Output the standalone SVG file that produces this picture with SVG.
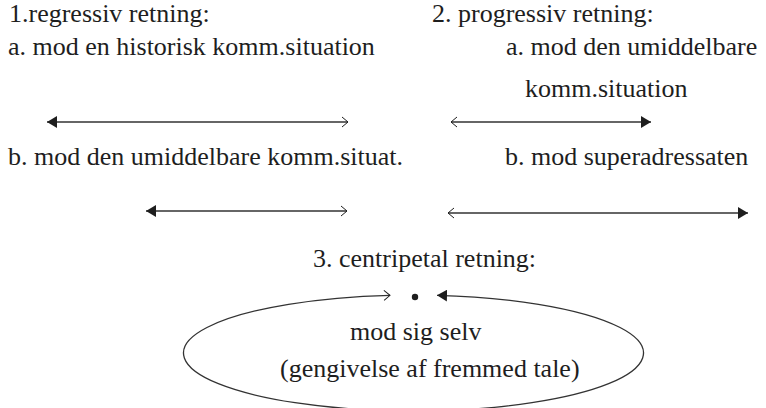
<svg xmlns="http://www.w3.org/2000/svg" width="766" height="408" viewBox="0 0 766 408">
  <style>
    .lbl { font-family: 'Liberation Serif', 'Times New Roman', serif; font-size: 26px; fill: #1e1e1e; }
    .conn { fill: none; stroke: #333; stroke-width: 1.3; }
  </style>
  <defs>
    <!-- filled and open arrowheads; both flip at the start of a line -->
    <marker id="solid" viewBox="0 0 10 12" refX="10" refY="6" markerWidth="10" markerHeight="12" markerUnits="userSpaceOnUse" orient="auto-start-reverse">
      <path d="M0,0 L10,6 L0,12 z" fill="#1e1e1e"/>
    </marker>
    <marker id="open" viewBox="0 0 8 12" refX="7" refY="6" markerWidth="8" markerHeight="12" markerUnits="userSpaceOnUse" orient="auto-start-reverse">
      <path d="M1,1 L7,6 L1,11" fill="none" stroke="#1e1e1e" stroke-width="1"/>
    </marker>
  </defs>

  <!-- 1. regressive direction -->
  <g id="regressiv" class="lbl">
    <text x="9" y="22">1.regressiv retning:</text>
    <text x="8" y="55">a. mod en historisk komm.situation</text>
    <text x="8" y="165">b. mod den umiddelbare komm.situat.</text>
  </g>

  <!-- 2. progressive direction -->
  <g id="progressiv" class="lbl">
    <text x="432" y="22">2. progressiv retning:</text>
    <text x="506" y="55">a. mod den umiddelbare</text>
    <text x="525" y="97">komm.situation</text>
    <text x="505" y="165">b. mod superadressaten</text>
  </g>

  <!-- 3. centripetal direction -->
  <g id="centripetal" class="lbl">
    <text x="313" y="267">3. centripetal retning:</text>
    <circle cx="415" cy="297" r="3.2" fill="#1e1e1e"/>
    <text x="350" y="340">mod sig selv</text>
    <text x="280" y="377">(gengivelse af fremmed tale)</text>
  </g>

  <g id="connectors">
    <line class="conn" x1="47" y1="122" x2="348" y2="122" marker-start="url(#solid)" marker-end="url(#open)"/>
    <line class="conn" x1="451" y1="122" x2="651" y2="122" marker-start="url(#open)" marker-end="url(#solid)"/>
    <line class="conn" x1="146" y1="211" x2="347" y2="211" marker-start="url(#solid)" marker-end="url(#open)"/>
    <line class="conn" x1="448" y1="213" x2="748" y2="213" marker-start="url(#open)" marker-end="url(#solid)"/>
    <!-- loop returning to the dot; its lowest part runs just past the bottom edge -->
    <path class="conn" d="M390,295.3 A230,58 0 1 0 437,295.3" marker-start="url(#open)" marker-end="url(#solid)"/>
  </g>
</svg>
